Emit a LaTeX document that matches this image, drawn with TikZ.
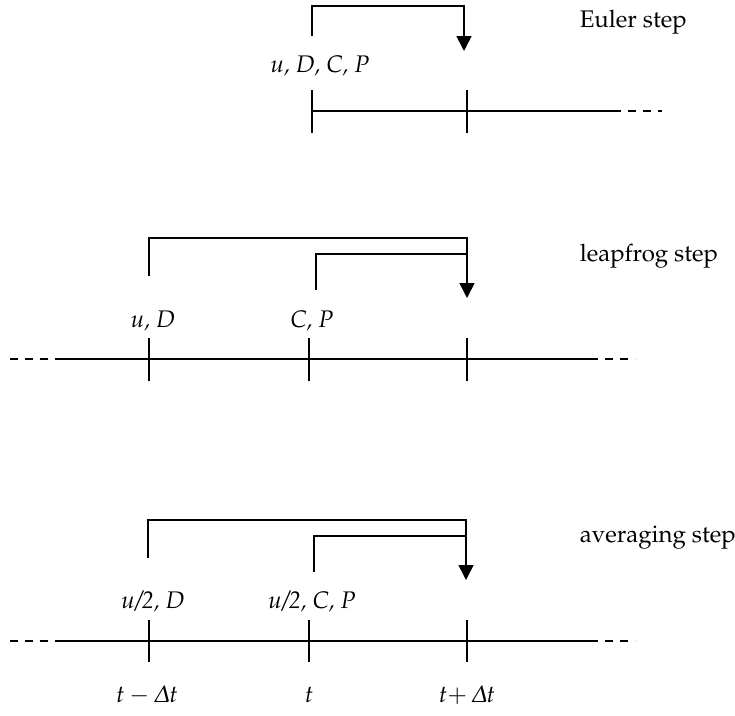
\documentclass[tikz,border=0pt]{standalone}
\usepackage[T1]{fontenc}
\usepackage{mathpazo}
\usetikzlibrary{arrows.meta}
\begin{document}
\begin{tikzpicture}[x=1pt,y=-1pt, line width=1.6pt, line join=miter,
  lab/.style={font=\fontsize{24}{28}\selectfont\itshape, inner sep=0pt},
  steplabel/.style={font=\fontsize{24}{28}\selectfont, inner sep=0pt, anchor=west},
  arr/.style={-{Triangle[length=15pt,width=15pt]}},
  dashpart/.style={dash pattern=on 8pt off 7pt, line width=1.4pt}]
\useasboundingbox (0,0) rectangle (735,715);

% ---------- Euler step ----------
\coordinate (e1) at (312,111);
\coordinate (e2) at (467,111);
\coordinate (eS) at (613,111);
\coordinate (eD) at (662,111);
\draw (e1) -- (eS);
\draw[dashpart] (eS) -- (eD);
\draw (312,90) -- (312,133);
\draw (467,90) -- (467,133);
\coordinate (eb0) at (312,36);
\coordinate (eb1) at (312,6);
\coordinate (eb2) at (464,6);
\coordinate (eb3) at (464,51);
\draw[arr] (eb0) -- (eb1) -- (eb2) -- (eb3);
\node[lab] (eVars) at (320,66) {u, D, C, P};
\node[steplabel] (eName) at (579,22) {Euler step};

% ---------- leapfrog step ----------
\coordinate (lD0) at (10,359);
\coordinate (lS0) at (55,359);
\coordinate (lS1) at (590,359);
\coordinate (lD1) at (635,359);
\draw[dashpart] (lD0) -- (lS0);
\draw (lS0) -- (lS1);
\draw[dashpart] (lS1) -- (lD1);
\draw (149,338) -- (149,381);
\draw (309,338) -- (309,381);
\draw (467,338) -- (467,381);
\coordinate (lo0) at (149,276);
\coordinate (lo1) at (149,238);
\coordinate (lo2) at (467,238);
\coordinate (lo3) at (467,298);
\draw[arr] (lo0) -- (lo1) -- (lo2) -- (lo3);
\coordinate (li0) at (316,290);
\coordinate (li1) at (316,254);
\coordinate (li2) at (467,254);
\draw (li0) -- (li1) -- (li2);
\node[lab] (lA) at (153,321) {u, D};
\node[lab] (lB) at (312,321) {C, P};
\node[steplabel] (lName) at (579,256) {leapfrog step};

% ---------- averaging step ----------
\coordinate (aD0) at (10,641);
\coordinate (aS0) at (55,641);
\coordinate (aS1) at (590,641);
\coordinate (aD1) at (635,641);
\draw[dashpart] (aD0) -- (aS0);
\draw (aS0) -- (aS1);
\draw[dashpart] (aS1) -- (aD1);
\draw (149,620) -- (149,662);
\draw (309,620) -- (309,662);
\draw (467,620) -- (467,662);
\coordinate (ao0) at (148,558);
\coordinate (ao1) at (148,520);
\coordinate (ao2) at (466,520);
\coordinate (ao3) at (466,580);
\draw[arr] (ao0) -- (ao1) -- (ao2) -- (ao3);
\coordinate (ai0) at (314,572);
\coordinate (ai1) at (314,536);
\coordinate (ai2) at (466,536);
\draw (ai0) -- (ai1) -- (ai2);
\node[lab] (aA) at (153,602) {u/2, D};
\node[lab] (aB) at (312,602) {u/2, C, P};
\node[steplabel] (aName) at (579,538) {averaging step};

% ---------- time labels ----------
\node[lab] (t0) at (147,695) {$t-\mathnormal{\Delta}t$};
\node[lab] (t1) at (309,695) {$t$};
\node[lab] (t2) at (467,695) {$t{+}\,\mathnormal{\Delta}t$};
\end{tikzpicture}
\end{document}
